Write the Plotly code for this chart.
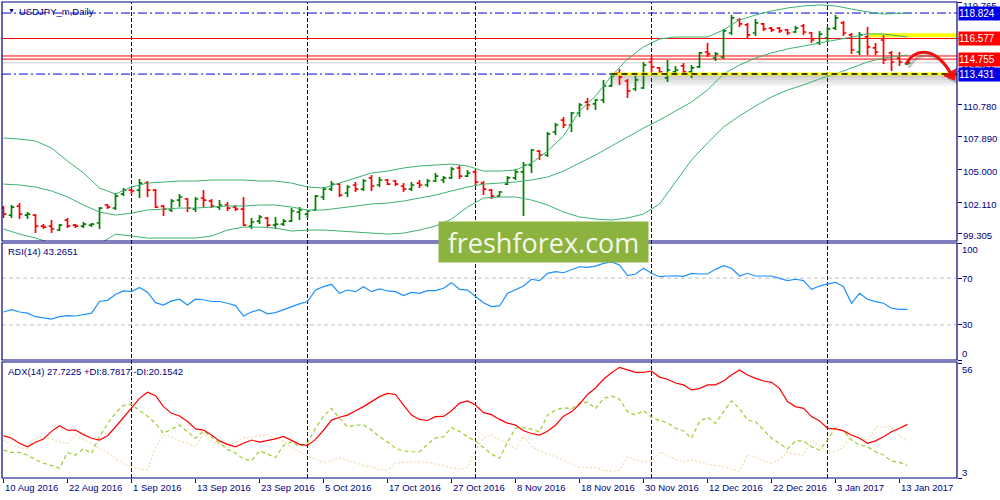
import plotly.graph_objects as go

# ---------------- DATA ----------------
bar_index = list(range(114))  # 0 = 10 Aug 2016 ... 113 = 16 Jan 2017
date_label_bars = list(range(0, 113, 8))
date_labels = ["10 Aug 2016", "22 Aug 2016", "1 Sep 2016", "13 Sep 2016", "23 Sep 2016",
               "5 Oct 2016", "17 Oct 2016", "27 Oct 2016", "8 Nov 2016", "18 Nov 2016",
               "30 Nov 2016", "12 Dec 2016", "22 Dec 2016", "3 Jan 2017", "13 Jan 2017"]
month_sep_bars = [16, 38, 59, 81, 103]

opens = [101.59, 100.97, 101.77, 100.97, 100.97, 100.00, 100.00, 99.65, 100.53, 100.09,
         100.00, 100.09, 100.27, 101.86, 101.59, 102.83, 103.18, 103.18, 103.80, 103.18,
         101.77, 101.42, 102.30, 102.39, 101.50, 102.48, 102.21, 101.68, 101.86, 101.68,
         101.50, 100.00, 100.44, 100.71, 100.09, 100.18, 100.44, 101.24, 101.06, 101.42,
         102.57, 103.27, 103.71, 102.92, 103.63, 103.27, 104.25, 103.63, 104.07, 103.98,
         103.54, 103.27, 103.80, 103.63, 103.98, 104.07, 104.25, 105.13, 104.42, 104.78,
         103.80, 103.18, 102.65, 103.71, 104.25, 104.78, 105.39, 106.63, 106.28, 108.31,
         109.37, 108.93, 109.99, 110.96, 110.79, 111.14, 112.38, 113.53, 112.82, 112.11,
         112.20, 114.50, 113.97, 113.09, 113.62, 114.15, 113.62, 114.06, 115.38, 114.85,
         114.94, 117.06, 118.21, 117.77, 117.06, 117.86, 117.50, 117.50, 117.33, 117.15,
         117.68, 117.06, 116.18, 116.62, 117.50, 117.95, 116.89, 115.38, 116.71, 115.74,
         116.44, 115.30, 114.85, 114.32]
highs = [101.77, 101.86, 102.03, 101.24, 101.06, 100.18, 100.53, 100.18, 100.71, 100.18,
         100.36, 100.27, 101.68, 101.95, 102.92, 103.36, 103.27, 104.16, 103.98, 103.27,
         101.86, 102.39, 102.83, 102.48, 102.57, 103.18, 102.39, 102.30, 102.12, 101.86,
         102.57, 100.71, 100.97, 100.80, 100.80, 100.62, 101.59, 101.68, 101.42, 102.74,
         103.45, 103.98, 103.80, 103.63, 103.89, 104.16, 104.51, 104.33, 104.16, 104.07,
         103.80, 103.89, 104.07, 104.16, 104.69, 104.42, 105.22, 105.39, 104.95, 104.95,
         103.98, 103.27, 103.10, 104.42, 105.04, 105.66, 106.81, 106.72, 108.31, 109.11,
         109.64, 110.08, 110.87, 111.32, 111.23, 112.91, 113.53, 113.88, 113.00, 113.26,
         114.50, 114.94, 114.06, 114.68, 114.15, 114.41, 114.23, 115.38, 116.18, 115.38,
         117.42, 118.65, 118.39, 117.95, 118.30, 117.95, 117.59, 117.59, 117.42, 117.68,
         117.86, 117.15, 117.24, 117.59, 118.65, 118.12, 117.06, 117.15, 117.59, 116.18,
         116.89, 115.47, 115.38, 114.50]
lows = [100.71, 100.71, 100.62, 100.62, 99.38, 99.74, 99.38, 99.56, 99.82, 99.82,
        99.82, 99.91, 99.74, 101.50, 101.42, 102.65, 102.83, 102.48, 102.57, 101.59,
        100.89, 101.24, 101.68, 101.24, 101.24, 101.68, 101.59, 101.42, 101.33, 101.33,
        100.00, 99.74, 100.18, 99.91, 99.74, 100.00, 100.36, 100.53, 100.71, 101.33,
        102.30, 103.10, 102.57, 102.57, 103.01, 103.10, 103.10, 103.45, 103.63, 103.54,
        103.01, 103.10, 103.36, 103.45, 103.89, 103.80, 104.16, 104.16, 104.33, 103.63,
        102.74, 102.39, 102.57, 103.63, 104.07, 100.89, 104.69, 105.84, 106.10, 108.05,
        108.66, 108.31, 109.64, 110.26, 110.26, 110.87, 112.29, 112.47, 111.32, 111.94,
        112.11, 113.62, 113.35, 112.73, 113.35, 113.35, 113.09, 113.97, 114.94, 114.59,
        114.76, 116.89, 117.59, 116.53, 116.80, 117.24, 117.15, 117.06, 116.89, 117.06,
        116.89, 116.18, 116.00, 116.27, 117.33, 116.80, 115.21, 115.12, 115.12, 115.12,
        114.32, 113.70, 114.15, 114.23]
closes = [101.06, 101.68, 101.06, 101.06, 100.00, 99.91, 99.74, 100.09, 100.00, 100.00,
          100.18, 100.18, 101.59, 101.68, 102.65, 103.18, 103.10, 103.80, 103.18, 101.68,
          101.50, 102.21, 102.57, 101.59, 102.39, 102.30, 101.77, 101.86, 101.59, 101.50,
          100.09, 100.36, 100.80, 100.09, 100.18, 100.44, 101.33, 101.42, 101.33, 102.65,
          103.27, 103.71, 102.74, 103.45, 103.27, 103.98, 103.54, 104.07, 103.71, 103.71,
          103.27, 103.63, 103.63, 103.98, 104.42, 104.25, 105.04, 104.42, 104.69, 103.89,
          103.27, 102.65, 103.01, 104.25, 104.78, 105.39, 106.72, 106.28, 108.14, 108.93,
          108.93, 109.99, 110.70, 110.70, 111.14, 112.38, 113.26, 113.17, 111.94, 112.91,
          114.23, 114.06, 113.62, 113.79, 113.79, 113.62, 113.97, 115.30, 115.21, 115.21,
          117.24, 118.39, 117.86, 116.89, 117.95, 117.42, 117.33, 117.24, 117.06, 117.50,
          117.15, 116.44, 116.97, 117.42, 118.39, 117.06, 115.56, 116.89, 115.83, 115.38,
          114.68, 114.50, 114.50, 114.42]

band_bars = list(range(0, 113, 2)) + [113]
bb_upper = [107.78, 107.69, 107.52, 106.90, 105.75, 104.69, 103.36, 102.83, 103.45, 103.80,
            103.89, 103.98, 103.98, 104.07, 104.07, 104.07, 103.98, 103.98, 103.80, 103.45,
            103.36, 103.80, 104.25, 104.69, 104.86, 105.13, 105.31, 105.39, 105.48, 105.31,
            104.86, 104.86, 104.95, 105.57, 106.63, 107.96, 110.17, 111.49, 113.26, 114.76,
            115.83, 116.53, 116.71, 116.71, 116.71, 117.33, 118.21, 118.65, 119.01, 119.27,
            119.45, 119.54, 119.45, 119.18, 118.92, 118.74, 118.83, 118.83]
bb_middle = [103.71, 103.63, 103.45, 103.10, 102.57, 101.86, 101.24, 100.97, 101.15, 101.42,
             101.50, 101.59, 101.59, 101.68, 101.77, 101.77, 101.86, 101.86, 101.68, 101.42,
             101.42, 101.59, 101.77, 101.95, 102.03, 102.21, 102.48, 102.74, 103.10, 103.45,
             103.71, 103.80, 103.89, 104.07, 104.33, 104.86, 105.57, 106.28, 107.07, 107.87,
             108.66, 109.37, 110.17, 110.96, 112.02, 113.44, 114.23, 114.85, 115.30, 115.65,
             115.91, 116.18, 116.44, 116.71, 116.97, 116.97, 116.80, 116.71]
bb_lower = [99.74, 99.29, 98.94, 98.50, 97.88, 97.70, 98.41, 99.29, 99.12, 98.94,
            98.94, 98.94, 98.94, 99.12, 99.65, 99.91, 99.91, 99.82, 99.56, 99.65,
            99.65, 99.56, 99.47, 99.38, 99.29, 99.38, 99.65, 100.00, 100.62, 101.68,
            102.48, 102.57, 102.57, 102.30, 101.86, 101.24, 100.80, 100.62, 100.53, 100.71,
            101.06, 101.95, 103.89, 105.84, 107.34, 108.75, 109.73, 110.61, 111.41, 112.02,
            112.47, 113.00, 113.44, 113.97, 114.50, 114.85, 115.03, 115.12]

rsi = [41, 43, 41, 40, 37, 36, 35, 37, 38, 37.6,
       39, 40, 50, 51, 56, 59, 58.5, 62, 58, 49,
       47, 50.5, 52, 47, 52, 51.5, 50, 50, 48.5, 46.5,
       37.6, 41, 43, 39.5, 40.5, 43, 46, 48, 50, 59.8,
       62.7, 64.7, 57, 59.8, 58.4, 62.7, 58.4, 60.7, 59, 58.4,
       55, 57.8, 57, 59.3, 59.3, 61.3, 66.1, 60.4, 59.8, 54.1,
       49, 45.6, 46.2, 57, 60.4, 63.2, 69, 67.8, 74.1, 75.5,
       74.6, 76.9, 79.7, 79.2, 80.3, 82.6, 83.8, 81.2, 72.1, 73.5,
       78.4, 74.1, 71.2, 71.8, 72, 71.5, 74, 73.5, 73.5, 77.5,
       80.6, 78.4, 71.8, 74.1, 71.8, 71.8, 71.8, 69.8, 67.8, 69,
       67.8, 60.4, 63.2, 65, 66.4, 62.7, 48.5, 57, 51.9, 49.9,
       48.5, 44.2, 43.3, 43.27]

adx = [22.5, 21.3, 19, 17.4, 19.5, 21, 24.5, 27.1, 25, 25.1,
       23, 21.3, 20.5, 22.5, 26.5, 31, 35.1, 39.7, 42.5, 40.9,
       35.9, 32.8, 31.6, 29, 25.6, 25.1, 22.8, 20.1, 18.5, 17.4,
       19, 20.5, 19.5, 20.1, 21, 22.2, 20.3, 18.5, 18, 20.8,
       25, 29.7, 31, 32, 34, 35.9, 38.2, 40.5, 42, 41.5,
       36.6, 32, 30, 29.5, 31.3, 31.4, 34, 37.5, 38.5, 36.6,
       33.1, 32.2, 30, 28.3, 27.4, 24.8, 23.5, 22.8, 24.5, 27.3,
       31.5, 33.5, 37, 41.5, 44.5, 48.5, 51.5, 54, 52.8, 51.7,
       51.7, 52.3, 49.5, 48.5, 46.8, 45.9, 43.6, 44.2, 45.9, 45.9,
       47.7, 50.5, 52.8, 50.5, 48.9, 47.7, 47.1, 44.3, 38.2, 35.9,
       35.1, 31.3, 29.3, 25.9, 25.6, 24.7, 22.8, 21.3, 19, 20.1,
       22, 24.3, 25.9, 27.72]
plus_di = [15.9, 14.8, 14.8, 13.5, 11.5, 9.8, 8.7, 7.5, 14.7, 13.6,
           16.5, 14.4, 22, 28, 33, 36.5, 37, 34, 31.5, 28.2,
           23.6, 25.6, 27.4, 24.3, 21.3, 24.7, 22, 19, 16.2, 14.5,
           11.8, 11, 15.5, 14, 12.4, 18, 19.7, 17.5, 19, 26,
           31.5, 35.1, 30.5, 26.6, 27.3, 27.5, 25.1, 22, 19.7, 16.7,
           15.5, 15.1, 15.1, 18.5, 21.5, 22, 26.2, 24.5, 22, 20,
           17, 14, 12.1, 19.5, 26, 26.2, 25.5, 24.3, 32, 34.3,
           35.4, 34.9, 37.5, 38, 35, 39.7, 40.8, 39.3, 33.6, 32,
           34, 31, 29.5, 28.5, 25.9, 24.7, 21.3, 29, 31, 28.2,
           33.5, 38.5, 35.1, 29.7, 29, 25.1, 21.3, 19, 16.4, 20.1,
           20.1, 17.4, 15.9, 20.5, 26.2, 24.7, 20.5, 18.2, 17.4, 15.1,
           13.6, 10.8, 10.2, 8.78]
minus_di = [20.5, 18.2, 17, 16.4, 21.5, 22, 21, 19.5, 19, 22.8,
            20.5, 19, 16.5, 15, 12, 9.5, 8.2, 7.2, 6.7, 17,
            22.8, 22, 20, 19, 17.4, 23.6, 19.8, 18.5, 17.4, 19.5,
            21.5, 21.8, 22.5, 22.8, 21.5, 20, 17, 15, 13, 11.5,
            10, 11, 12.4, 11.2, 10, 8.8, 8, 7, 6.5, 9.8,
            10.2, 10.5, 10.5, 10.2, 9.5, 8.7, 7.7, 7, 8, 16,
            21.5, 23, 20.5, 19, 16.5, 22.5, 17.6, 15.5, 14.2, 12.8,
            11.3, 9.5, 7.9, 7.9, 7.9, 6.5, 6, 6.7, 12.8, 11.5,
            10.5, 11, 15, 13.5, 11.5, 10.5, 11.3, 10.5, 9.3, 8.8,
            8.2, 7, 6.2, 13.6, 12.8, 11, 9.8, 11.3, 15.1, 14,
            13.6, 20.5, 17.4, 15.1, 15, 17.4, 22.8, 22, 20.1, 26.2,
            26.6, 26.6, 22.5, 20.15]

price_tick_values = [99.305, 102.110, 105.000, 107.890, 110.780, 113.670, 116.560, 119.765]
price_label_values = [99.305, 102.110, 105.000, 107.890, 110.780]
price_labels = ["99.305", "102.110", "105.000", "107.890", "110.780"]
top_price_label = "119.765"
top_price_value = 119.765
rsi_axis_values = [0, 30, 70, 100]
adx_axis_values = [3, 56]

blue_levels = [118.824, 113.431]
red_levels = [116.577, 115.030, 114.755]
bid_price = 114.422
boxed_levels = [(118.824, "#0000E6"), (116.577, "#FF0000"), (114.755, "#FF0000"), (113.431, "#0000E6")]

support_start_bar = 76
resist_start_bar = 108.2
resist_band = (116.68, 117.03)
# curved arrow (bar index, price)
arrow_curve = [(112.81, 114.32), (114.06, 115.83), (116.56, 115.83), (118.44, 113.44)]
arrow_head = [(118.86, 112.90), (119.08, 113.89), (117.55, 113.29)]

# ---------------- LAYOUT HELPERS ----------------
NAVY = "#000080"
FONT = "Liberation Sans, Arial, sans-serif"
X0, X1 = -0.1875, 119.1875
PLOT_TOP, PLOT_BOT = 2, 478


def ypap(py):
    return (PLOT_BOT - py) / (PLOT_BOT - PLOT_TOP)


def xpap(px):
    return (px - 2) / 955


main_dom = [ypap(241), 1.0]
rsi_dom = [ypap(360), ypap(243)]
adx_dom = [0.0, ypap(362)]

fig = go.Figure()

for band in (bb_upper, bb_middle, bb_lower):
    fig.add_trace(go.Scatter(x=band_bars, y=band, mode="lines", xaxis="x", yaxis="y",
                             line=dict(color="#3CB371", width=1), hoverinfo="skip"))

fig.add_trace(go.Ohlc(x=bar_index, open=opens, high=highs, low=lows, close=closes,
                      xaxis="x", yaxis="y", tickwidth=0.35,
                      increasing=dict(line=dict(color="#008000", width=1.7)),
                      decreasing=dict(line=dict(color="#FF0000", width=1.7)),
                      hoverinfo="skip"))

fig.add_trace(go.Scatter(x=bar_index, y=rsi, mode="lines", xaxis="x", yaxis="y2",
                         line=dict(color="#1E90FF", width=1.2), hoverinfo="skip"))

fig.add_trace(go.Scatter(x=bar_index, y=minus_di, mode="lines", xaxis="x", yaxis="y3",
                         line=dict(color="#F5DEB3", width=1.3, dash="2px,2px"), hoverinfo="skip"))
fig.add_trace(go.Scatter(x=bar_index, y=plus_di, mode="lines", xaxis="x", yaxis="y3",
                         line=dict(color="#9ACD32", width=1.2, dash="4px,3px"), hoverinfo="skip"))
fig.add_trace(go.Scatter(x=bar_index, y=adx, mode="lines", xaxis="x", yaxis="y3",
                         line=dict(color="#FF0000", width=1.2), hoverinfo="skip"))

shapes = []
# month separators
for b in month_sep_bars:
    shapes.append(dict(type="line", xref="x", yref="paper", x0=b, x1=b, y0=0, y1=1, layer="below",
                       line=dict(color=NAVY, width=1, dash="4px,2px")))
# level lines
shapes.append(dict(type="line", xref="paper", yref="y", x0=0, x1=1, y0=bid_price, y1=bid_price,
                   layer="below", line=dict(color="#CCCCCC", width=1)))
for lv in red_levels:
    shapes.append(dict(type="line", xref="paper", yref="y", x0=0, x1=1, y0=lv, y1=lv,
                       layer="below", line=dict(color="#FF0000", width=1)))
for lv in blue_levels:
    shapes.append(dict(type="line", xref="paper", yref="y", x0=0, x1=1, y0=lv, y1=lv,
                       layer="below", line=dict(color="#0000E6", width=1, dash="9px,3px,2px,3px")))
# resistance highlight
shapes.append(dict(type="rect", xref="x", yref="y", x0=resist_start_bar, x1=X1,
                   y0=resist_band[0], y1=resist_band[1], layer="below",
                   fillcolor="#FFFF00", line=dict(width=0)))
# support highlight with shadow
for h in [0.3, 0.55, 0.8, 1.05]:
    shapes.append(dict(type="rect", xref="x", yref="y", x0=support_start_bar, x1=X1,
                       y0=blue_levels[1] - h, y1=blue_levels[1], layer="below",
                       fillcolor="rgba(0,0,0,0.05)", line=dict(width=0)))
shapes.append(dict(type="line", xref="x", yref="y", x0=support_start_bar, x1=X1,
                   y0=blue_levels[1], y1=blue_levels[1], line=dict(color="#FFFF00", width=3)))
shapes.append(dict(type="line", xref="x", yref="y", x0=support_start_bar, x1=X1,
                   y0=blue_levels[1], y1=blue_levels[1], line=dict(color="#000000", width=1.5, dash="6px,4px")))
# RSI levels
for lv in (70, 30):
    shapes.append(dict(type="line", xref="paper", yref="y2", x0=0, x1=1, y0=lv, y1=lv,
                       layer="below", line=dict(color="#C0C0C0", width=1, dash="4px,3px")))


def curve_path(pts, dx=0.0, dy=0.0):
    p = [(x + dx, y + dy) for x, y in pts]
    return "M {},{} C {},{} {},{} {},{}".format(p[0][0], p[0][1], p[1][0], p[1][1],
                                                p[2][0], p[2][1], p[3][0], p[3][1])


def tri_path(pts, dx=0.0, dy=0.0):
    p = [(x + dx, y + dy) for x, y in pts]
    return "M {},{} L {},{} L {},{} Z".format(p[0][0], p[0][1], p[1][0], p[1][1], p[2][0], p[2][1])


# arrow shadow then arrow
shapes.append(dict(type="path", xref="x", yref="y", path=curve_path(arrow_curve, 0.35, -0.3),
                   line=dict(color="rgba(0,0,0,0.22)", width=3)))
shapes.append(dict(type="path", xref="x", yref="y", path=tri_path(arrow_head, 0.35, -0.3),
                   fillcolor="rgba(0,0,0,0.22)", line=dict(width=0)))
shapes.append(dict(type="path", xref="x", yref="y", path=curve_path(arrow_curve),
                   line=dict(color="#F01010", width=3)))
shapes.append(dict(type="path", xref="x", yref="y", path=tri_path(arrow_head),
                   fillcolor="#F01010", line=dict(color="#F01010", width=1)))

# panel borders
for dom in (main_dom, rsi_dom, adx_dom):
    shapes.append(dict(type="rect", xref="paper", yref="paper", x0=0, x1=1, y0=dom[0], y1=dom[1],
                       line=dict(color=NAVY, width=1.2), fillcolor="rgba(0,0,0,0)"))

annotations = []


def txt(text, x, y, xref="paper", yref="paper", size=9.5, color=NAVY, xanchor="left", **kw):
    d = dict(text=text, x=x, y=y, xref=xref, yref=yref, showarrow=False, xanchor=xanchor,
             yanchor="middle", font=dict(family=FONT, size=size, color=color))
    d.update(kw)
    annotations.append(d)


# price scale labels
txt(top_price_label, xpap(961), top_price_value, yref="y", yshift=-3)
for v, t in zip(price_label_values, price_labels):
    txt(t, xpap(961), v, yref="y", yshift=-2)
# rsi scale labels
rsi_shift = {0: 7, 30: 0, 70: 0, 100: -6}
for v in rsi_axis_values:
    txt(str(v), xpap(960), v, yref="y2", yshift=rsi_shift[v])
adx_shift = {3: 6, 56: -6}
for v in adx_axis_values:
    txt(str(v), xpap(960), v, yref="y3", yshift=adx_shift[v])

# bid label (mostly hidden) then boxed level labels
txt("{:.3f}".format(bid_price), xpap(959), bid_price, yref="y", yshift=-2, bgcolor="white")
for lv, col in boxed_levels:
    txt("{:.3f}".format(lv), xpap(958), lv, yref="y", size=10, color="white", bgcolor=col,
        width=41, height=13, borderpad=0, align="left")

# date labels
for b, t in zip(date_label_bars, date_labels):
    txt(t, b, ypap(488), xref="x", xshift=-1)

# titles
txt("▼", xpap(6), ypap(10.5), size=7)
txt("USDJPY_m,Daily", xpap(17), ypap(11.5))
txt("RSI(14) 43.2651", xpap(6), ypap(251.5))
txt("ADX(14) 27.7225 +DI:8.7817 -DI:20.1542", xpap(6), ypap(371))

# watermark
annotations.append(dict(text="freshforex.com", x=xpap(543.5), y=ypap(242), xref="paper", yref="paper",
                        showarrow=False, xanchor="center", yanchor="middle", bgcolor="#8DB33F",
                        width=209, height=40, borderpad=0,
                        font=dict(family="Open Sans", size=27, color="rgba(255,255,255,0.92)")))

axis_common = dict(showgrid=False, zeroline=False, showline=False, showticklabels=False,
                   ticks="outside", ticklen=4, tickcolor=NAVY, fixedrange=True)

fig.update_layout(
    width=1000, height=500,
    margin=dict(l=2, r=43, t=2, b=22),
    paper_bgcolor="white", plot_bgcolor="white",
    showlegend=False,
    xaxis=dict(range=[X0, X1], domain=[0, 1], anchor="y3", tickvals=date_label_bars,
               rangeslider=dict(visible=False), **axis_common),
    yaxis=dict(domain=main_dom, range=[98.68, 119.80], side="right", anchor="x",
               tickvals=price_tick_values, **axis_common),
    yaxis2=dict(domain=rsi_dom, range=[0, 100], side="right", anchor="x",
                tickvals=rsi_axis_values, **axis_common),
    yaxis3=dict(domain=adx_dom, range=[3, 56.46], side="right", anchor="x",
                tickvals=adx_axis_values, **axis_common),
    shapes=shapes,
    annotations=annotations,
)

fig.write_html("out.html", config={"displayModeBar": False},
               post_script="document.body.style.margin='0';document.body.style.overflow='hidden';")
